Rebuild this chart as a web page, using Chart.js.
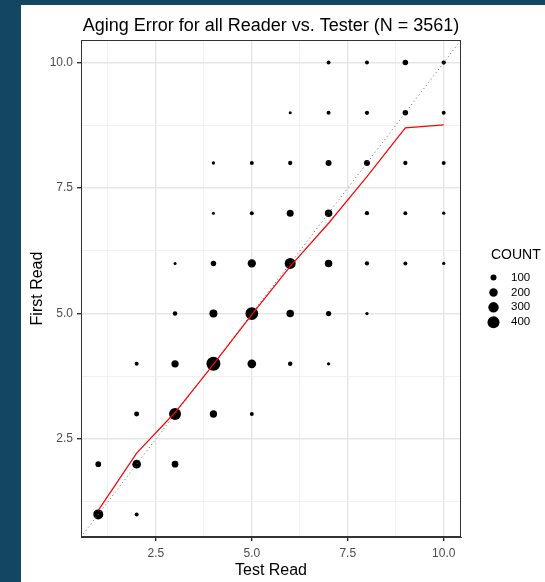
<!DOCTYPE html>
<html>
<head>
<meta charset="utf-8">
<script src="https://cdn.jsdelivr.net/npm/chart.js@4.4.1/dist/chart.umd.min.js"></script>
<style>
  body { margin: 0; background: #134761; }
  #wrap { position: absolute; left: 21px; top: 5px; width: 524px; height: 577px; background: #fff; }
</style>
</head>
<body>
<div id="wrap"><canvas id="agingChart" width="524" height="577"></canvas></div>
<script>
'use strict';

// one entry per bubble: test read (x), first read (y), number of fish
var testRead = [
  7, 8, 9, 10,
  6, 7, 8, 9, 10,
  4, 5, 6, 7, 8, 9, 10,
  4, 5, 6, 7, 8, 9, 10,
  3, 4, 5, 6, 7, 8, 9, 10,
  3, 4, 5, 6, 7, 8,
  2, 3, 4, 5, 6, 7,
  2, 3, 4, 5,
  1, 2, 3,
  1, 2
];
var firstRead = [
  10, 10, 10, 10,
  9, 9, 9, 9, 9,
  8, 8, 8, 8, 8, 8, 8,
  7, 7, 7, 7, 7, 7, 7,
  6, 6, 6, 6, 6, 6, 6, 6,
  5, 5, 5, 5, 5, 5,
  4, 4, 4, 4, 4, 4,
  3, 3, 3, 3,
  2, 2, 2,
  1, 1
];
var counts = [
  44, 44, 84, 51,
  25, 44, 51, 84, 44,
  30, 44, 51, 100, 100, 51, 44,
  25, 44, 136, 156, 51, 44, 30,
  25, 84, 191, 336, 156, 51, 44, 30,
  56, 178, 448, 156, 78, 30,
  44, 148, 544, 210, 56, 30,
  69, 400, 148, 44,
  90, 210, 125,
  278, 44
];

// mean first read for each test read (red line)
var meanTestRead = [1, 2, 3, 4, 5, 6, 7, 8, 9, 10];
var meanFirstRead = [1.08, 2.22, 3.03, 3.99, 4.98, 5.94, 6.8, 7.73, 8.7, 8.76];

var axisMin = 0.55;
var axisMax = 10.45;
var tickValues = [1.25, 2.5, 3.75, 5, 6.25, 7.5, 8.75, 10];
var majorTicks = [2.5, 5, 7.5, 10];
var legendCounts = [100, 200, 300, 400];

var fontFamily = '"Liberation Sans", Arial, sans-serif';

function bubbleRadius(n) {
  return 0.3 * Math.sqrt(n);
}

function isMajor(v) {
  return majorTicks.indexOf(v) !== -1;
}

var bubbles = testRead.map(function (x, i) {
  return { x: x, y: firstRead[i], r: bubbleRadius(counts[i]) };
});

var meanLine = meanTestRead.map(function (x, i) {
  return { x: x, y: meanFirstRead[i] };
});

function axisOptions(title, isY) {
  return {
    type: 'linear',
    min: axisMin,
    max: axisMax,
    afterBuildTicks: function (axis) {
      axis.ticks = tickValues.map(function (v) { return { value: v }; });
    },
    afterFit: function (axis) {
      if (isY) axis.width = 60;
      else axis.height = 45;
    },
    grid: {
      color: function (c) { return isMajor(c.tick.value) ? '#E6E6E6' : '#EDEDED'; },
      lineWidth: function (c) { return isMajor(c.tick.value) ? 1.4 : 0.8; },
      tickColor: function (c) { return isMajor(c.tick.value) ? '#333333' : 'rgba(0,0,0,0)'; },
      tickLength: 4,
      drawTicks: true
    },
    border: { display: true, color: '#333333', width: 1 },
    ticks: {
      autoSkip: false,
      maxRotation: 0,
      padding: isY ? 4 : 5,
      color: '#4D4D4D',
      font: { family: fontFamily, size: 12 },
      callback: function (v) { return isMajor(v) ? v.toFixed(1) : ''; }
    },
    title: {
      display: true,
      text: title,
      color: '#000',
      font: { family: fontFamily, size: 16 },
      padding: isY ? { top: 7, bottom: 0 } : { top: 0, bottom: 2 }
    }
  };
}

// panel border + size legend, drawn by hand like ggplot does
var panelExtras = {
  id: 'panelExtras',
  afterDraw: function (chart) {
    var c = chart.ctx;
    var a = chart.chartArea;
    c.save();
    c.strokeStyle = '#333333';
    c.lineWidth = 1;
    c.strokeRect(Math.round(a.left) + 0.5, Math.round(a.top) + 0.5,
      Math.round(a.right - a.left) - 1, Math.round(a.bottom - a.top) - 1);

    c.fillStyle = '#000';
    c.textAlign = 'left';
    c.textBaseline = 'middle';
    c.font = '14px ' + fontFamily;
    c.fillText('COUNT', 470, 250);
    c.font = '11.5px ' + fontFamily;
    legendCounts.forEach(function (n, i) {
      var y = 272.5 + i * 14.9;
      c.beginPath();
      c.arc(472.5, y, bubbleRadius(n), 0, 2 * Math.PI);
      c.fill();
      c.fillText(String(n), 490, y);
    });
    c.restore();
  }
};

var ctx = document.getElementById('agingChart').getContext('2d');

var agingChart = new Chart(ctx, {
  type: 'bubble',
  data: {
    datasets: [{
      type: 'line',
      label: 'mean',
      data: meanLine,
      borderColor: '#FF0000',
      borderWidth: 1.2,
      pointRadius: 0,
      fill: false,
      tension: 0,
      order: 0
    }, {
      type: 'line',
      label: '1:1',
      data: [{ x: axisMin, y: axisMin }, { x: axisMax, y: axisMax }],
      borderColor: '#666666',
      borderWidth: 1,
      borderDash: [1, 3],
      pointRadius: 0,
      fill: false,
      order: 1
    }, {
      label: 'COUNT',
      data: bubbles,
      backgroundColor: '#000',
      borderWidth: 0,
      order: 2
    }]
  },
  options: {
    responsive: false,
    animation: false,
    events: [],
    layout: { padding: { left: 0, right: 84, top: 0, bottom: 0 } },
    scales: {
      x: axisOptions('Test Read', false),
      y: axisOptions('First Read', true)
    },
    plugins: {
      legend: { display: false },
      tooltip: { enabled: false },
      title: {
        display: true,
        fullSize: false,
        text: 'Aging Error for all Reader vs. Tester (N = 3561)',
        color: '#000',
        font: { family: fontFamily, size: 18, weight: 'normal' },
        padding: { top: 10, bottom: 3.4 }
      }
    }
  },
  plugins: [panelExtras]
});
</script>
</body>
</html>
